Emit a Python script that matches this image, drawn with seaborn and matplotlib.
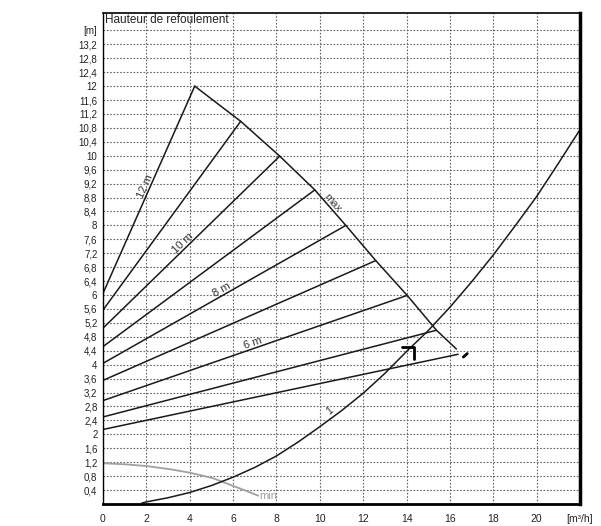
import numpy as np
import pandas as pd
import matplotlib
matplotlib.use("Agg")
import matplotlib.pyplot as plt
import seaborn as sns

# -----------------------------
# Data
# -----------------------------

# setpoint lines: head at zero flow and end point on the max curve
line_names = ["12 m", "11 m", "10 m", "9 m", "8 m", "7 m", "6 m", "5 m", "4 m"]
start_head = [6.05, 5.57, 5.05, 4.52, 4.04, 3.55, 2.97, 2.50, 2.14]
end_flow = [4.23, 6.35, 8.15, 9.77, 11.20, 12.58, 14.03, 15.38, 16.38]
end_head = [12.0, 10.99, 9.99, 9.02, 8.0, 6.99, 5.99, 4.99, 4.30]

# max curve
max_flow = [4.23, 6.35, 8.15, 9.77, 11.20, 12.58, 14.03, 15.38, 16.30]
max_head = [12.0, 10.99, 9.99, 9.02, 8.0, 6.99, 5.99, 4.99, 4.45]

# min curve (grey)
min_flow = [0, 1, 2, 3.08, 4, 5.08, 5.5, 6, 6.6, 7.15]
min_head = [1.17, 1.14, 1.09, 1.0, 0.9, 0.74, 0.64, 0.52, 0.38, 0.24]

# system curve "1"
sys_flow = [1.8, 2, 3, 4, 5, 6, 7, 8, 9, 10, 11, 12, 13, 14, 15, 16,
            17, 18, 19, 20, 21, 22]
sys_head = [0.03, 0.06, 0.18, 0.33, 0.53, 0.77, 1.05, 1.38, 1.78, 2.22, 2.68,
            3.18, 3.75, 4.38, 4.98, 5.65, 6.38, 7.15, 7.98, 8.83, 9.78, 10.75]

# duty point mark and end dash
mark_flow = [13.77, 14.34, 14.34]
mark_head = [4.50, 4.50, 4.16]
dash_flow = [16.62, 16.80]
dash_head = [4.22, 4.32]

# labels on lines (index of line, flow where placed)
line_labels = {0: 2.15, 2: 3.85, 4: 5.6, 6: 7.0}

# ticks
x_ticks = [0, 2, 4, 6, 8, 10, 12, 14, 16, 18, 20, 22]
x_tick_labels = ["0", "2", "4", "6", "8", "10", "12", "14", "16", "18", "20", "[m³/h]"]
y_ticks = np.round(np.arange(0.4, 13.61, 0.4), 1)
y_tick_labels = ["0,4", "0,8", "1,2", "1,6", "2", "2,4", "2,8", "3,2", "3,6", "4",
                 "4,4", "4,8", "5,2", "5,6", "6", "6,4", "6,8", "7,2", "7,6", "8",
                 "8,4", "8,8", "9,2", "9,6", "10", "10,4", "10,8", "11,2", "11,6", "12",
                 "12,4", "12,8", "13,2", "[m]"]

# -----------------------------
# Figure
# -----------------------------

sns.set_style("white")
plt.rcParams["font.family"] = ["Liberation Sans", "DejaVu Sans"]

fig = plt.figure(figsize=(6.01, 5.26), dpi=100)
ax = fig.add_axes([103 / 601, 22 / 526, 477 / 601, 491 / 526])
ax.set_xlim(0, 22)
ax.set_ylim(0, 14.1)

rows = []
for name, h0, q1, h1 in zip(line_names, start_head, end_flow, end_head):
    rows.append({"line": name, "flow": 0.0, "head": h0})
    rows.append({"line": name, "flow": q1, "head": h1})
lines_df = pd.DataFrame(rows)

sns.lineplot(data=lines_df, x="flow", y="head", units="line", estimator=None,
             color="#1a1a1a", lw=1.1, ax=ax)
sns.lineplot(x=max_flow, y=max_head, estimator=None, color="#1a1a1a", lw=1.1, ax=ax)
sns.lineplot(x=min_flow, y=min_head, estimator=None, color="#a0a0a0", lw=1.3, ax=ax)
sns.lineplot(x=sys_flow, y=sys_head, estimator=None, color="#1a1a1a", lw=1.1, ax=ax)
sns.lineplot(x=mark_flow, y=mark_head, estimator=None, sort=False,
             color="black", lw=2, ax=ax)
sns.lineplot(x=dash_flow, y=dash_head, estimator=None, color="black", lw=2, ax=ax)


def screen_angle(x0, y0, x1, y1):
    p = ax.transData.transform([(x0, y0), (x1, y1)])
    return np.degrees(np.arctan2(p[1, 1] - p[0, 1], p[1, 0] - p[0, 0]))


# labels along setpoint lines
for i, q in line_labels.items():
    h = start_head[i] + (end_head[i] - start_head[i]) * q / end_flow[i]
    ang = screen_angle(0, start_head[i], end_flow[i], end_head[i])
    ax.text(q, h, line_names[i], rotation=ang, rotation_mode="anchor",
            ha="center", va="bottom", fontsize=8, color="#333333")

# "max" label
ang = screen_angle(max_flow[3], max_head[3], max_flow[4], max_head[4])
ax.text(10.4, 8.55, "max", rotation=ang, rotation_mode="anchor",
        ha="center", va="bottom", fontsize=8, color="#444444")

# "min" label
ax.text(7.2, 0.22, "min", ha="left", va="center", fontsize=8, color="#a0a0a0")

# "1" label on system curve
ang = screen_angle(10, 2.22, 12, 3.18)
ax.text(10.6, 2.55, "1", rotation=ang, rotation_mode="anchor",
        ha="center", va="bottom", fontsize=7.5, color="#333333")

ax.text(0.005, 0.998, "Hauteur de refoulement", transform=ax.transAxes,
        ha="left", va="top", fontsize=8.5, color="#222222")

# axes styling
ax.set_xticks(x_ticks)
ax.set_xticklabels(x_tick_labels)
ax.set_xticks(np.arange(0, 22.01, 0.5), minor=True)
ax.set_yticks(y_ticks)
ax.set_yticklabels(y_tick_labels)

ax.tick_params(axis="x", which="major", direction="out", length=4, width=1,
               pad=3, labelsize=7.5, colors="black", labelcolor="#222222")
ax.tick_params(axis="x", which="minor", direction="out", length=3, width=0.8)
ax.tick_params(axis="y", direction="out", length=3, width=0.8, pad=1,
               labelsize=7, colors="black", labelcolor="#222222")

ax.grid(True, which="major", color="#666666", lw=0.8, linestyle=(0, (1.5, 1.5)))
ax.set_xlabel("")
ax.set_ylabel("")

for side, w in {"top": 1.2, "right": 2.5, "bottom": 2.0, "left": 1.0}.items():
    ax.spines[side].set_visible(True)
    ax.spines[side].set_color("black")
    ax.spines[side].set_linewidth(w)

fig.savefig("out.png", dpi=100)
